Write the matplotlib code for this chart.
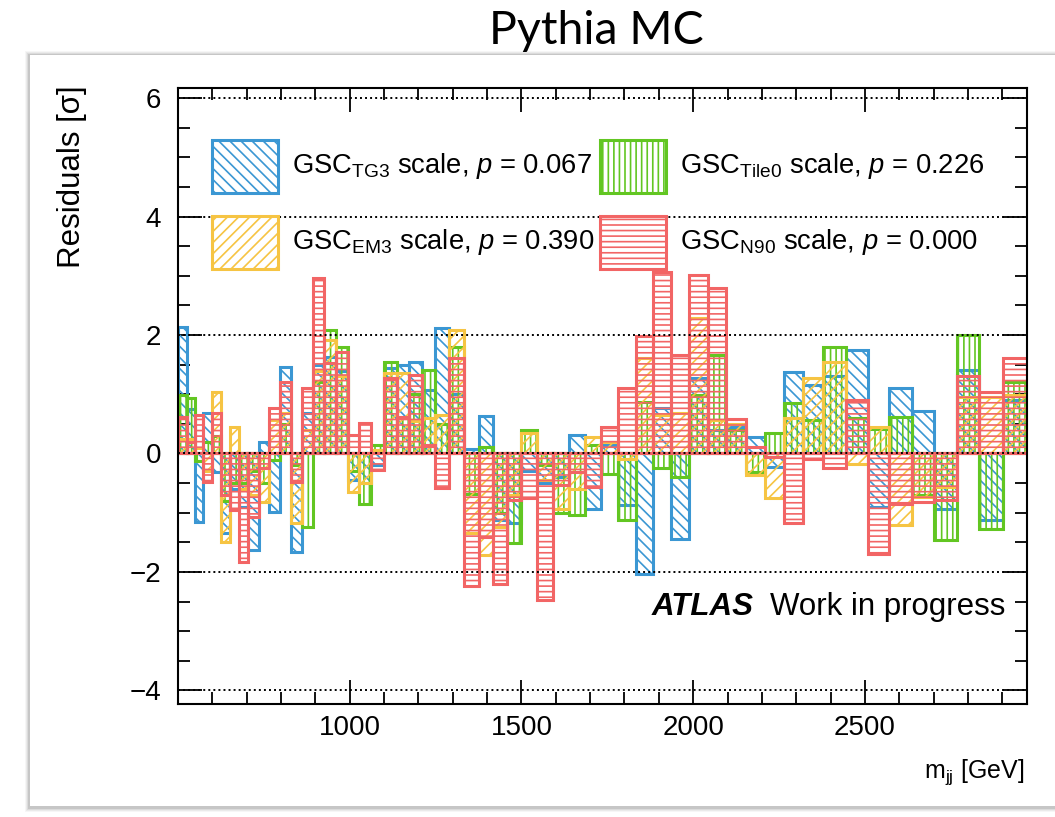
import matplotlib.pyplot as plt
from matplotlib.patches import Rectangle
from matplotlib.ticker import MultipleLocator
import numpy as np

plt.rcParams['font.family'] = ['Liberation Sans', 'DejaVu Sans']
plt.rcParams['mathtext.fontset'] = 'custom'
plt.rcParams['mathtext.rm'] = 'Liberation Sans'
plt.rcParams['mathtext.it'] = 'Liberation Sans:italic'
plt.rcParams['mathtext.bf'] = 'Liberation Sans:bold'
plt.rcParams['hatch.linewidth'] = 1.2

# m_jj bin edges [GeV]
bin_edges = [500, 525, 549, 574, 598, 625, 651, 677, 705, 735, 766, 797, 828,
             860, 892, 925, 960, 995, 1028, 1063, 1100, 1137, 1172, 1210, 1248,
             1290, 1333, 1375, 1417, 1458, 1500, 1545, 1592, 1638, 1685, 1731,
             1781, 1833, 1884, 1936, 1987, 2042, 2097, 2153, 2208, 2264, 2321,
             2379, 2444, 2508, 2571, 2636, 2702, 2767, 2833, 2901, 2972]

# fit residuals per bin [sigma]
res_tg3 = [2.14, 0.75, -1.15, 0.68, -0.31, -1.35, -0.60, -0.90, -1.63, 0.19,
           -0.99, 1.46, -1.66, 0.68, 1.50, 1.63, 1.40, -0.45, -0.50, -0.20,
           1.44, 1.49, 1.55, 1.07, 2.11, 1.00, 0.08, 0.64, -1.13, -1.18,
           -0.30, -0.50, -0.40, 0.31, -0.93, 0.15, -0.87, -2.03, 0.76, -1.44,
           1.27, 0.40, 0.45, 0.28, -0.23, 1.38, 1.15, 1.30, 1.75, -0.90,
           1.10, 0.72, -0.93, 1.41, -1.13, 0.90]
res_em3 = [0.25, 0.25, 0.10, -0.30, 1.04, -1.49, 0.45, -0.60, -0.70, -0.82,
           0.56, 0.68, -1.18, 0.40, 1.40, 1.92, 1.30, -0.65, -0.50, 0.05,
           1.35, 1.35, 0.55, 0.60, 0.65, 2.08, -1.35, -1.72, -1.24, -0.70,
           0.34, -0.45, -0.93, -0.60, 0.28, 0.20, -0.10, 1.61, 0.65, 0.68,
           2.28, 0.56, 0.50, -0.37, -0.76, 0.60, 1.28, 1.55, -0.17, 0.45,
           -1.21, -0.73, -0.56, 0.96, 0.96, 0.99]
res_tile0 = [0.99, 0.93, -0.12, 0.20, 0.30, -0.80, -0.50, -0.50, -0.30, -0.50,
             -0.11, 0.50, -0.20, -1.24, 1.20, 2.08, 1.80, -0.30, -0.85, 0.14,
             1.55, 0.60, 1.00, 1.41, 0.50, 1.80, -0.68, 0.11, -1.00, -1.52,
             0.39, -0.20, -1.00, -1.04, 0.14, -0.34, -1.13, 0.87, -0.25, -0.39,
             0.99, 1.66, 0.40, -0.31, 0.34, 0.85, 0.56, 1.80, 0.60, 0.42,
             0.62, -0.70, -1.46, 2.00, -1.27, 1.21]
res_n90 = [0.62, 0.20, 0.65, -0.48, 0.68, -0.70, -0.96, -1.83, -1.07, -0.25,
           0.76, 1.21, -0.48, 1.10, 2.96, 1.52, 1.72, 0.31, 0.51, -0.28,
           1.27, 0.62, 1.32, 0.14, -0.59, 1.61, -2.23, -1.41, -2.20, -0.79,
           -0.76, -2.48, -0.54, -0.31, -0.56, 0.45, 1.10, 1.98, 3.07, 1.66,
           3.01, 2.79, 0.59, 0.11, -0.06, -1.18, -0.10, -0.25, 0.90, -1.69,
           -0.85, -0.82, -0.79, 1.30, 1.04, 1.61]

subscripts = ["TG3", "Tile0", "EM3", "N90"]
p_values = ["0.067", "0.226", "0.390", "0.000"]

W, H = 1055, 817


def fx(px):
    return px / W


def fy(py):
    return 1 - py / H


fig = plt.figure(figsize=(W / 100, H / 100), dpi=100)

# slide card with a soft shadow on the left and bottom
card = (30, 55, 1100, 806)
for k, a in enumerate([0.05, 0.07, 0.10, 0.16]):
    off = 5 - k
    fig.patches.append(Rectangle((fx(card[0] - off), fy(card[3] + off + 1)),
                                 fx(card[2] - card[0]),
                                 (card[3] - card[1] + 2 * off) / H,
                                 transform=fig.transFigure, color="0.35",
                                 alpha=a, lw=0, zorder=-3))
fig.patches.append(Rectangle((fx(card[0]), fy(card[3])), fx(card[2] - card[0]),
                             (card[3] - card[1]) / H, transform=fig.transFigure,
                             facecolor="white", edgecolor="none", zorder=-2))

fig.text(fx(596), fy(31), "Pythia MC", ha="center", va="center",
         fontsize=33.5, family="Lato")

ax = fig.add_axes([fx(178), fy(704), (1027 - 178) / W, (704 - 88) / H])
ax.patch.set_alpha(0)
ax.set_xlim(500, 2972)
ax.set_ylim(-4.23, 6.17)

edges = np.array(bin_edges, dtype=float)
widths = np.diff(edges)

series = [
    (res_tg3, "#3b97d3", "\\\\\\"),
    (res_tile0, "#62c622", "|||"),
    (res_em3, "#f6c443", "///"),
    (res_n90, "#f26565", "---"),
]
for vals, col, hatch in series:
    ax.bar(edges[:-1], vals, width=widths, align="edge", fill=False,
           hatch=hatch, edgecolor=col, linewidth=2.2, zorder=2)

for yv in [-4, -2, 0, 2, 4, 6]:
    ax.axhline(yv, color="black", ls=(0, (1, 1.6)), lw=1.4, zorder=3)

ax.xaxis.set_major_locator(MultipleLocator(500))
ax.xaxis.set_minor_locator(MultipleLocator(100))
ax.yaxis.set_major_locator(MultipleLocator(2))
ax.yaxis.set_minor_locator(MultipleLocator(0.5))
ax.tick_params(which="both", direction="in", top=True, right=True,
               width=1.3, labelsize=20)
ax.tick_params(which="major", length=17)
ax.tick_params(which="minor", length=8.5)
ax.tick_params(axis="y", pad=12)
ax.tick_params(axis="x", pad=8)
ax.set_xticks([1000, 1500, 2000, 2500])
for s in ax.spines.values():
    s.set_linewidth(1.5)
    s.set_zorder(4)

# legend: hatched boxes + labels, two columns
legend_slots = [(212, 140), (600, 140), (212, 216), (600, 216)]
for (x0, y0), (_, col, hatch), sub, pv in zip(legend_slots, series,
                                              subscripts, p_values):
    fig.patches.append(Rectangle((fx(x0), fy(y0 + 53)), 66 / W, 53 / H,
                                 transform=fig.transFigure, fill=False,
                                 hatch=hatch, edgecolor=col, lw=2.2, zorder=5))
    fig.text(fx(x0 + 80), fy(y0 + 26),
             "GSC$_{\\mathregular{%s}}$ scale, $p$ = %s" % (sub, pv),
             ha="left", va="center", fontsize=19.7, zorder=6)

fig.text(fx(652), fy(607), "ATLAS", ha="left", va="center", fontsize=22.5,
         fontweight="bold", style="italic")
fig.text(fx(770), fy(607), "Work in progress", ha="left", va="center",
         fontsize=22.5)

fig.text(fx(72), fy(85), "Residuals [σ]", rotation=90, ha="center",
         va="top", fontsize=22.5)
fig.text(fx(1025), fy(772), "m$_{\\mathregular{jj}}$ [GeV]", ha="right",
         va="center", fontsize=18)

fig.savefig("out.png", dpi=100)
